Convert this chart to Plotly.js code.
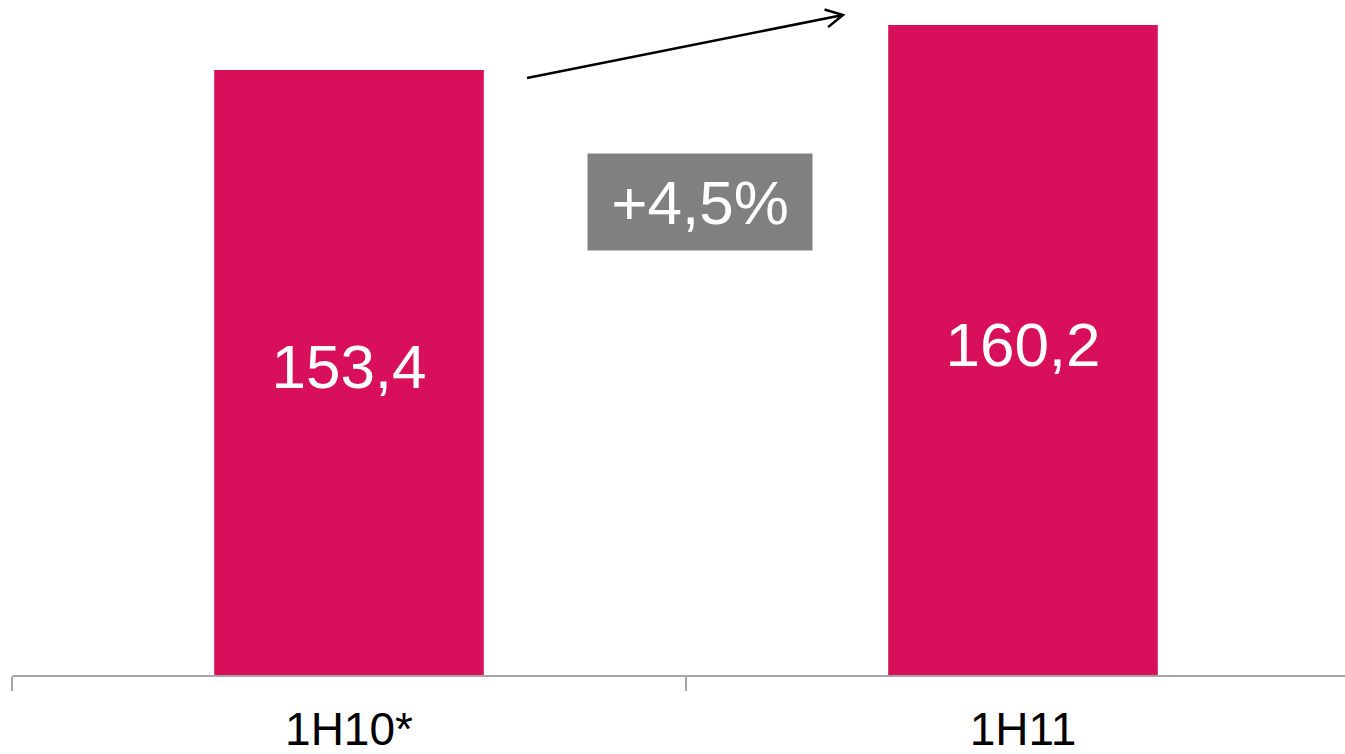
<!DOCTYPE html>
<html>
<head>
<meta charset="utf-8">
<script src="https://cdn.plot.ly/plotly-3.0.1.min.js"></script>
<style>
  html, body { margin: 0; padding: 0; background: #ffffff; }
  #chart { width: 1345px; height: 754px; }
</style>
</head>
<body>
<div id="chart"></div>
<script>
// Half-year revenue, first half 2010 vs first half 2011
const periods = ['1H10*', '1H11'];
const revenue = [153.4, 160.2];
const growthLabel = '+4,5%';

// value axis is cut off above zero, so the bars start at this floor
const axisFloor = 62;
const axisCeil = 163.98;

const barColor = '#D80F5A';
const font = 'Arial, "Liberation Sans", sans-serif';

const W = 1345, H = 754;
const M = { l: 12, r: 0, t: 0, b: 79 };
const plotW = W - M.l - M.r, plotH = H - M.t - M.b;
// pixel position on the page -> paper coordinates
const px = x => (x - M.l) / plotW;
const py = y => (plotH + M.t - y) / plotH;

const bars = {
  type: 'bar',
  x: periods,
  y: revenue,
  width: 0.4,
  marker: { color: barColor, line: { width: 0 } },
  hoverinfo: 'skip'
};

// value labels centred on the visible part of each bar
const labels = {
  type: 'scatter',
  mode: 'text',
  x: periods,
  y: revenue.map(v => (v + axisFloor) / 2),
  text: revenue.map(v => v.toFixed(1).replace('.', ',')),
  textposition: 'middle center',
  textfont: { family: font, size: 62, color: '#ffffff' },
  hoverinfo: 'skip',
  cliponaxis: false
};

// trend arrow: shaft plus an open V head
const tail = [527, 78], head = [843, 15];
const dx = head[0] - tail[0], dy = head[1] - tail[1];
const len = Math.hypot(dx, dy);
const ux = dx / len, uy = dy / len;
const back = 17, spread = 9;
const wingA = [head[0] - back * ux - spread * uy, head[1] - back * uy + spread * ux];
const wingB = [head[0] - back * ux + spread * uy, head[1] - back * uy - spread * ux];
const P = p => px(p[0]) + ',' + py(p[1]);
const arrowPath = 'M' + P(tail) + ' L' + P(head) + ' M' + P(wingA) + ' L' + P(head) + ' L' + P(wingB);

const layout = {
  width: W,
  height: H,
  margin: M,
  paper_bgcolor: '#ffffff',
  plot_bgcolor: '#ffffff',
  showlegend: false,
  xaxis: {
    type: 'category',
    range: [-0.5, -0.5 + plotW / 674],
    showline: true,
    linecolor: '#A6A6A6',
    linewidth: 1.5,
    ticks: 'outside',
    tickson: 'boundaries',
    ticklen: 14,
    tickcolor: '#A6A6A6',
    tickwidth: 1.5,
    ticklabelstandoff: 13,
    showgrid: false,
    zeroline: false,
    tickfont: { family: font, size: 46, color: '#000000' }
  },
  yaxis: {
    range: [axisFloor, axisCeil],
    visible: false,
    showgrid: false,
    zeroline: false
  },
  shapes: [
    {
      type: 'path',
      xref: 'paper', yref: 'paper',
      path: arrowPath,
      line: { color: '#000000', width: 2.5 },
      layer: 'above'
    }
  ],
  annotations: [
    {
      // growth badge between the bars
      xref: 'paper', yref: 'paper',
      x: px(700), y: py(202),
      xanchor: 'center', yanchor: 'middle',
      text: growthLabel,
      showarrow: false,
      bgcolor: '#808080',
      borderpad: 0,
      width: 224,
      height: 96,
      font: { family: font, size: 62, color: '#ffffff' }
    }
  ]
};

Plotly.newPlot('chart', [bars, labels], layout, { staticPlot: true, displayModeBar: false });
</script>
</body>
</html>
